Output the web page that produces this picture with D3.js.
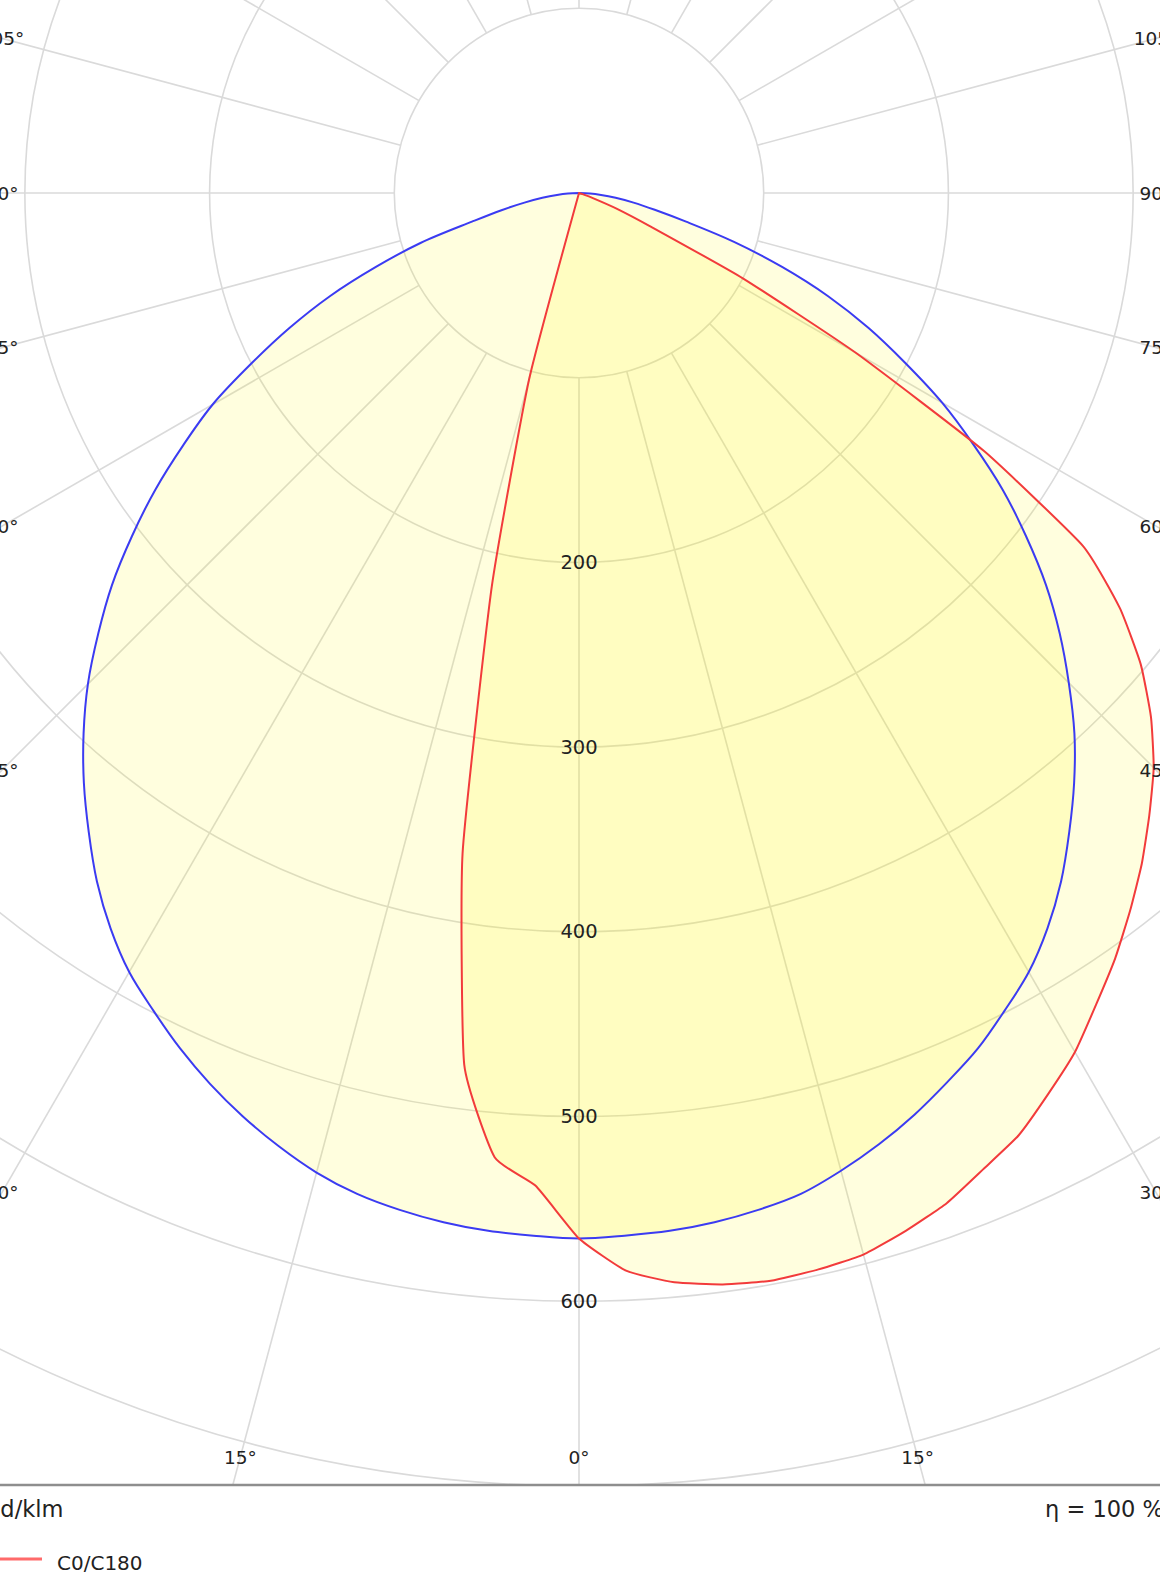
<!DOCTYPE html>
<html>
<head>
<meta charset="utf-8">
<script src="https://cdn.jsdelivr.net/npm/d3@7"></script>
<style>
  html, body { margin: 0; padding: 0; background: #ffffff; overflow: hidden; }
  svg { display: block; font-family: "DejaVu Sans", Verdana, sans-serif; }
</style>
</head>
<body>
<svg id="chart" width="1160" height="1582"></svg>
<script>
// ---------------- data (cd/klm) ----------------
const gammaAngles = [0, 2.5, 5, 7.5, 10, 12.5, 15, 17.5, 20, 22.5, 25, 27.5, 30, 32.5, 35, 37.5, 40, 42.5, 45,
  47.5, 50, 52.5, 55, 57.5, 60, 62.5, 65, 67.5, 70, 72.5, 75, 77.5, 80, 82.5, 85, 87.5, 90];

// C0/C180 plane (red): C0 drawn on the right, C180 on the left
const c0Values = [566, 584, 592, 596, 598, 597, 595, 589, 582, 572, 563, 550, 537, 521, 506, 490, 474, 457, 440,
  420, 397, 369, 333, 260, 173, 100, 42, 22, 8, 2, 0, 0, 0, 0, 0, 0, 0];
const c180Values = [566, 538, 524, 476, 363, 218, 104, 0, 0, 0, 0, 0, 0, 0, 0, 0, 0, 0, 0,
  0, 0, 0, 0, 0, 0, 0, 0, 0, 0, 0, 0, 0, 0, 0, 0, 0, 0];

// C90/C270 plane (blue): C90 on the right, C270 on the left
const c90Values = [566, 565, 564, 562, 559, 555, 548, 540, 531, 521, 511, 499, 487, 472, 455, 436, 417, 397, 375,
  353, 330, 305, 280, 253, 227, 199, 173, 146, 117, 88, 60, 42, 30, 20, 12, 6, 0];
const c270Values = [566, 565, 564, 562, 559, 555, 549, 541, 532, 522, 511, 499, 487, 472, 455, 436, 417, 397, 376,
  353, 330, 305, 280, 254, 229, 200, 173, 146, 117, 90, 60, 43, 30, 20, 12, 6, 0];

const ringTicks = [100, 200, 300, 400, 500, 600, 700];
const ringLabelTicks = [200, 300, 400, 500, 600];
const spokeAngles = [0, 15, 30, 45, 60, 75, 90, 105, 120, 135, 150, 165, 180, 195, 210, 225, 240, 255, 270, 285, 300, 315, 330, 345];
const angleLabelTicks = [0, 15, 30, 45, 60, 75, 90, 105, 120, 135, 150, 165, 180];
const unitLabel = "cd/klm";
const efficiencyLabel = "η = 100 %";
const legendLabels = ["C0/C180"];

// ---------------- layout ----------------
const W = 1160, H = 1582;
const cx = 579, cy = 193;
const plotBottom = 1485;
const labelHalfW = 577, labelBottom = 1457, labelTop = -400;

const r = d3.scaleLinear().domain([0, 700]).range([0, 1293]);
const toRad = d => d * Math.PI / 180;

const svg = d3.select("#chart");
svg.append("defs").append("clipPath").attr("id", "plotClip")
  .append("rect").attr("x", -20).attr("y", -20).attr("width", W + 40).attr("height", plotBottom + 20);

const plot = svg.append("g").attr("clip-path", "url(#plotClip)");
const g = plot.append("g").attr("transform", `translate(${cx},${cy})`);

// grid: rings
g.append("g").selectAll("circle").data(ringTicks).join("circle")
  .attr("r", d => r(d))
  .attr("fill", "none")
  .attr("stroke", "#dadada")
  .attr("stroke-width", 1.6);

// grid: spokes (start at the 100 ring)
g.append("g").selectAll("line").data(spokeAngles).join("line")
  .attr("x1", d => r(100) * Math.sin(toRad(d)))
  .attr("y1", d => r(100) * Math.cos(toRad(d)))
  .attr("x2", d => r(1300) * Math.sin(toRad(d)))
  .attr("y2", d => r(1300) * Math.cos(toRad(d)))
  .attr("stroke", "#dadada")
  .attr("stroke-width", 1.6);

function halfPoints(vals, side) {
  // keep values up to (and including) the first zero after the lit part
  const pts = [];
  for (let i = 0; i < gammaAngles.length; i++) {
    pts.push({ a: Math.PI - side * toRad(gammaAngles[i]), v: vals[i] });
    if (vals[i] === 0 && i > 0) break;
  }
  return pts;
}
function shape(rightVals, leftVals, curve) {
  const radial = d3.lineRadial()
    .angle(d => d.a)
    .radius(d => r(d.v))
    .curve(curve);
  const left = halfPoints(leftVals, -1).reverse();
  const right = halfPoints(rightVals, 1).slice(1);
  return radial(left.concat(right)) + "Z";
}

const curves = [
  { name: "C90/C270", right: c90Values, left: c270Values, color: "#3b3bf2", curve: d3.curveCatmullRom.alpha(0.5) },
  { name: "C0/C180", right: c0Values, left: c180Values, color: "#f23b3b", curve: d3.curveCardinal.tension(0.55) }
];

// fills (semi transparent yellow)
g.append("g").selectAll("path").data(curves).join("path")
  .attr("d", d => shape(d.right, d.left, d.curve))
  .attr("fill", "rgb(255,248,0)")
  .attr("fill-opacity", 0.13)
  .attr("stroke", "none");

// outlines
g.append("g").selectAll("path").data(curves).join("path")
  .attr("d", d => shape(d.right, d.left, d.curve))
  .attr("fill", "none")
  .attr("stroke", d => d.color)
  .attr("stroke-width", 2)
  .attr("stroke-linejoin", "round");

// ring value labels along the 0° axis
g.append("g").selectAll("text").data(ringLabelTicks).join("text")
  .attr("x", 0)
  .attr("y", d => r(d))
  .attr("text-anchor", "middle")
  .attr("dominant-baseline", "central")
  .attr("font-size", 19.5)
  .attr("fill", "#222")
  .text(d => d);

// angle labels, placed where each spoke meets the label frame
function labelPos(gDeg, side) {
  const a = toRad(gDeg);
  const sx = Math.abs(Math.sin(a)), dy = Math.cos(a);
  let t = Infinity;
  if (sx > 1e-9) t = Math.min(t, labelHalfW / sx);
  if (dy > 1e-9) t = Math.min(t, (labelBottom - cy) / dy);
  if (dy < -1e-9) t = Math.min(t, (labelTop - cy) / dy);
  return { x: cx + side * sx * t, y: cy + dy * t, text: gDeg + "°" };
}
const angleLabels = [];
angleLabelTicks.forEach(gd => {
  if (gd === 0 || gd === 180) angleLabels.push(labelPos(gd, 1));
  else { angleLabels.push(labelPos(gd, -1)); angleLabels.push(labelPos(gd, 1)); }
});
svg.append("g").selectAll("text").data(angleLabels.filter(p => p.y > -30 && p.y < H))
  .join("text")
  .attr("x", d => d.x)
  .attr("y", d => d.y)
  .attr("text-anchor", "middle")
  .attr("dominant-baseline", "central")
  .attr("font-size", 18.5)
  .attr("fill", "#222")
  .text(d => d.text);

// bottom frame line
svg.append("line")
  .attr("x1", -10).attr("x2", W + 10)
  .attr("y1", plotBottom).attr("y2", plotBottom)
  .attr("stroke", "#8e8e8e").attr("stroke-width", 2.6);

// unit and efficiency texts
svg.append("text").attr("x", -12).attr("y", 1517)
  .attr("font-size", 22.5).attr("fill", "#222").text(unitLabel);
svg.append("text").attr("x", 1045).attr("y", 1517)
  .attr("font-size", 22.5).attr("fill", "#222").text(efficiencyLabel);

// legend
const legend = svg.append("g").selectAll("g").data(legendLabels).join("g")
  .attr("transform", (d, i) => `translate(0,${1559 + i * 36})`);
legend.append("line").attr("x1", 0).attr("x2", 42).attr("y1", 0).attr("y2", 0)
  .attr("stroke", "#ff6a6a").attr("stroke-width", 3);
legend.append("text").attr("x", 57).attr("y", 11)
  .attr("font-size", 20).attr("fill", "#222").text(d => d);
</script>
</body>
</html>
